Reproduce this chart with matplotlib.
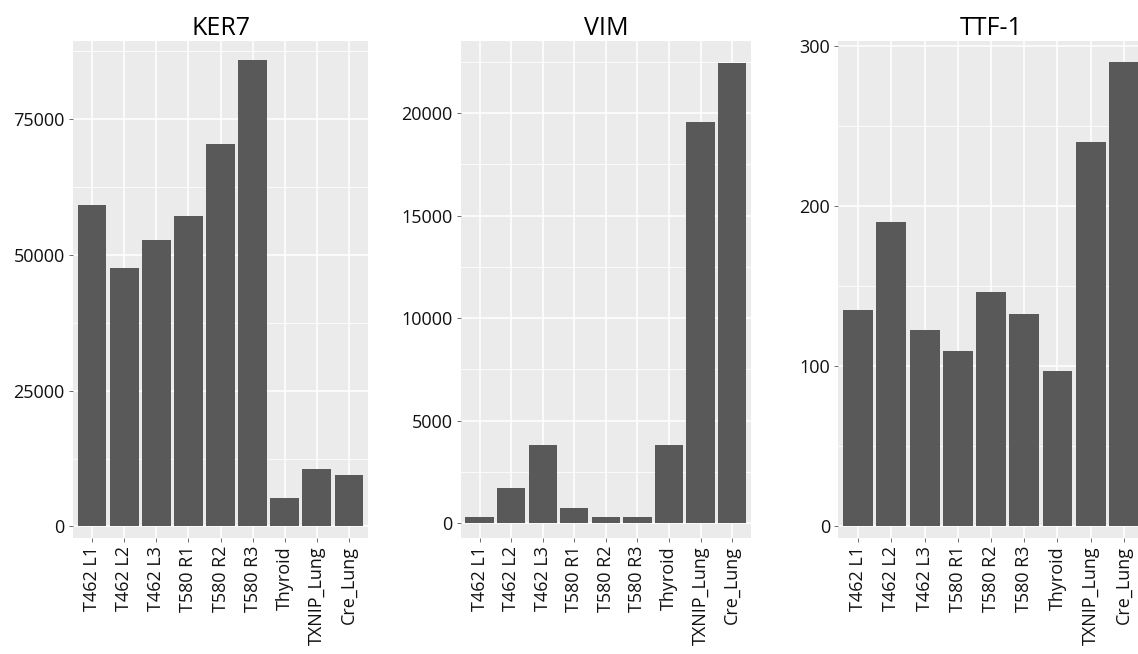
#!/usr/bin/env python3
"""
Expression of KER7, VIM and TTF-1 across samples (ggplot-style bar panels)
"""

import numpy as np
import matplotlib
matplotlib.use('Agg')
import matplotlib.pyplot as plt
from matplotlib.ticker import AutoMinorLocator

plt.rcParams['font.family'] = ['Open Sans', 'DejaVu Sans']

# Data
samples = ['T462 L1', 'T462 L2', 'T462 L3', 'T580 R1', 'T580 R2', 'T580 R3',
           'Thyroid', 'TXNIP_Lung', 'Cre_Lung']
genes = ['KER7', 'VIM', 'TTF-1']
ker7 = [59300, 47600, 52700, 57200, 70400, 85900, 5300, 10500, 9400]
vim = [300, 1700, 3800, 750, 300, 300, 3800, 19550, 22450]
ttf1 = [135, 190, 122.5, 109.5, 146, 132.5, 97, 240, 290]
yticks = [[0, 25000, 50000, 75000],
          [0, 5000, 10000, 15000, 20000],
          [0, 100, 200, 300]]

# layout (pixels in a 1138x654 canvas): left, right, y-limits
panels = [(72.7, 368.3, (-2120, 89470)),
          (460.7, 751.0, (-730, 23530)),
          (838.3, 1143.8, (-7.5, 303.1))]
top_px, bottom_px = 40.7, 538.0
W, H = 1138, 654

fig = plt.figure(figsize=(W / 100, H / 100), dpi=100)

for gene, vals, ticks, (l, r, ylim) in zip(genes, [ker7, vim, ttf1], yticks, panels):
    ax = fig.add_axes([l / W, (H - bottom_px) / H, (r - l) / W, (bottom_px - top_px) / H])
    ax.set_facecolor('#EBEBEB')
    x = np.arange(len(samples))
    ax.bar(x, vals, width=0.9, color='#595959', zorder=3)

    ax.set_xlim(-0.6, len(samples) - 0.4)
    ax.set_ylim(*ylim)
    ax.set_xticks(x)
    ax.set_xticklabels(samples, rotation=90, va='top', ha='center')
    ax.set_yticks(ticks)
    ax.set_yticklabels([str(t) for t in ticks])
    ax.yaxis.set_minor_locator(AutoMinorLocator(2))

    ax.grid(True, which='major', color='white', linewidth=1.1, zorder=0)
    ax.grid(True, which='minor', axis='y', color='white', linewidth=0.55, zorder=0)
    ax.set_axisbelow(True)
    for s in ax.spines.values():
        s.set_visible(False)

    ax.tick_params(axis='both', which='major', length=2.75, width=0.6,
                   color='#555555', labelsize=13, labelcolor='#111111', pad=3)
    ax.tick_params(axis='y', which='minor', length=0)
    ax.set_title(gene, fontsize=18, color='black', pad=4)

fig.savefig('out.png', dpi=100)
